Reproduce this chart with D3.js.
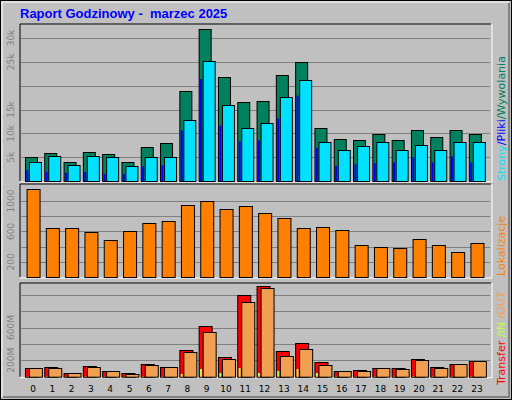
<!DOCTYPE html><html><head><meta charset="utf-8">
<script src="https://cdn.jsdelivr.net/npm/d3@7"></script>
<style>body{margin:0;background:#fff} text{white-space:pre}</style></head><body><svg id="c" width="512" height="400"></svg>
<script>
const hours=d3.range(24).map(String);
const hits=[5000,5800,4000,6000,5600,4000,7100,7900,18800,31900,21900,16500,16700,22300,25000,11200,8900,8700,9800,8700,10800,9200,10600,9800];
const files=[3900,5200,3300,5200,5000,3100,5000,5000,12900,25200,16000,11200,12100,17700,21200,8100,6400,7300,8100,6400,7500,6400,8100,8100];
const pages=[2300,1900,1700,1900,1500,1500,3100,3300,10600,21400,11600,8300,8500,13100,17900,6900,3100,3500,3700,3900,5000,3900,5200,3900];
const sites=[1154,641,641,588,483,601,707,733,943,996,891,930,838,772,641,654,614,417,391,378,496,417,325,443];
const kbytes=[106,118,45,130,70,45,155,118,326,618,240,997,1106,313,411,179,70,82,106,106,216,118,155,191];
const kout=[106,106,45,118,70,33,143,118,302,545,216,910,1080,253,338,143,70,70,106,94,204,106,155,191];
const kin=[4,4,2,4,3,2,5,4,33,94,45,106,45,70,94,45,4,4,4,4,5,4,4,4];
const hitTicks=[5000,10000,15000,20000,25000,30000], hitLabels=["5k","10k","15k","","25k","30k"];
const siteTicks=[200,400,600,800,1000], siteLabels=["200","","600","","1000"];
const kbTicks=[200,400,600,800,1000], kbLabels=["200M","","600M","",""];

const svg=d3.select("#c");
svg.append("rect").attr("x",0.5).attr("y",0.5).attr("width",511).attr("height",399).attr("fill","#C0C0C0").attr("stroke","#000");
svg.append("polyline").attr("points","2,397 2,2 509,2").attr("fill","none").attr("stroke","#fff");
svg.append("polyline").attr("points","3,397 509,397 509,3").attr("fill","none").attr("stroke","#808080").attr("stroke-width",2);
svg.append("text").attr("x",20).attr("y",18).attr("fill","#0000FF").attr("font-family","Liberation Sans, Arial").attr("font-weight","bold").attr("font-size",13).text("Raport Godzinowy -  marzec 2025");

const x=d3.scaleBand().domain(hours).range([23.35,486.55]);
const L=20,R=491;
function panel(y0,y1,max,ticks,labels){
  svg.append("polyline").attr("points",`${L},${y1} ${L},${y0} ${R},${y0}`).attr("fill","none").attr("stroke","#000");
  svg.append("polyline").attr("points",`${L},${y1+1} ${R+1},${y1+1} ${R+1},${y0}`).attr("fill","none").attr("stroke","#fff");
  const y=d3.scaleLinear().domain([0,max]).range([y1,y0]);
  const g=svg.append("g");
  ticks.forEach((t,i)=>{
    g.append("line").attr("x1",L+1).attr("x2",R-1).attr("y1",Math.round(y(t))+0.5).attr("y2",Math.round(y(t))+0.5).attr("stroke","#808080");
    if(labels[i]) g.append("text").attr("transform",`translate(14,${y(t)}) rotate(-90)`).attr("text-anchor","middle").attr("fill","#808080").attr("font-family","DejaVu Sans").attr("font-size",9).text(labels[i]);
  });
  return y;
}
function bars(y,data,dx,w,fill){
  svg.append("g").selectAll("rect").data(data).join("rect")
   .attr("x",(d,i)=>x(hours[i])+dx+0.5).attr("y",d=>Math.round(y(d))+0.5).attr("width",w).attr("height",d=>Math.max(0,y.range()[0]-Math.round(y(d))))
   .attr("fill",fill).attr("stroke","#000");
}
const y1=panel(24,181,30000*157/143,hitTicks,hitLabels);
bars(y1,hits,1.6,12,"#00805C");
bars(y1,files,5.6,12,"#00E0FF");
svg.append("g").selectAll("rect").data(pages).join("rect").attr("x",(d,i)=>x(hours[i])+3).attr("y",d=>y1(d)).attr("width",2).attr("height",d=>181-y1(d)).attr("fill","#0000FF");
const y2=panel(184,277,200*(277-184)/15.2,siteTicks,siteLabels);
bars(y2,sites,3.2,13,"#FF8000");
const y3=panel(283,376.7,200*(376.7-283)/16.4,kbTicks,kbLabels);
bars(y3,kbytes,1.6,13,"#FF0000");
bars(y3,kout,5.6,13,"#F0A050");
svg.append("g").selectAll("rect").data(kin).join("rect").attr("x",(d,i)=>x(hours[i])+3).attr("y",d=>y3(d)).attr("width",2).attr("height",d=>376.7-y3(d)).attr("fill","#C0FF40");
svg.append("g").selectAll("text").data(hours).join("text").attr("x",d=>x(d)+x.bandwidth()/2).attr("y",392).attr("text-anchor","middle").attr("font-family","DejaVu Sans").attr("font-size",9).attr("fill","#000").text(d=>d);

function vlab(yb,parts){
  const t=svg.append("text").attr("transform",`translate(505,${yb}) rotate(-90)`).attr("font-family","DejaVu Sans").attr("font-size",11);
  parts.forEach(p=>t.append("tspan").attr("fill",p[1]).text(p[0]));
}
vlab(181,[["Strony","#00E0FF"],["/","#0000FF"],["Pliki","#0000FF"],["/","#00805C"],["Wywolania","#00805C"]]);
vlab(276,[["Lokalizacje","#FF8000"]]);
vlab(385,[["Transfer","#FF0000"],[" /IN","#C0FF40"],[" /OUT","#F0A050"]]);
</script></body></html>
